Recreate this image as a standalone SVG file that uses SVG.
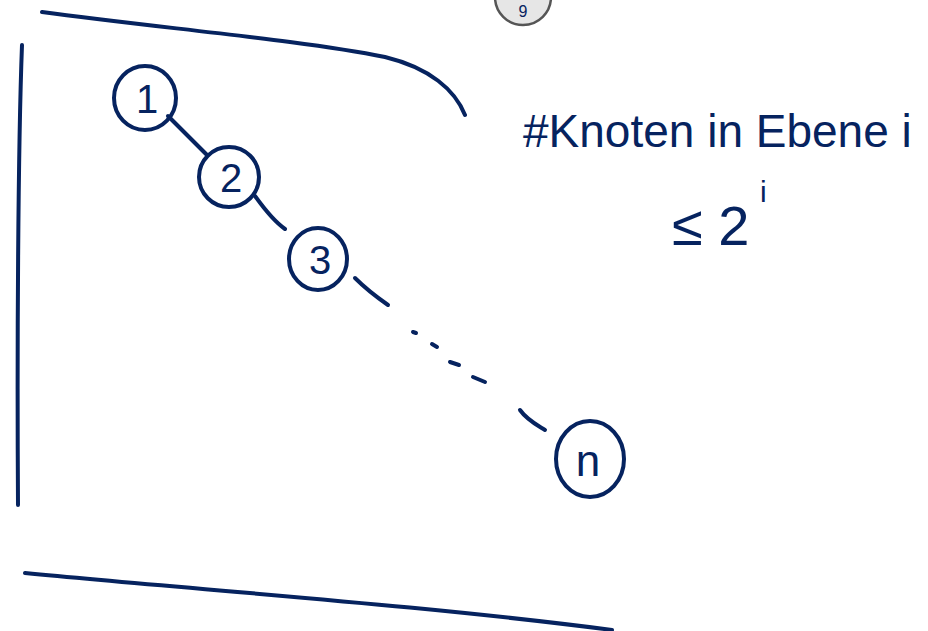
<svg xmlns="http://www.w3.org/2000/svg" width="928" height="631" viewBox="0 0 928 631">
<style>
.ink{fill:none;stroke:#06235f;stroke-width:4;stroke-linecap:round;stroke-linejoin:round}
.lbl{font-family:"Liberation Sans",Arial,sans-serif;fill:#06235f;text-anchor:middle}
.txt{font-family:"Liberation Sans",Arial,sans-serif;fill:#06235f}
</style>
<rect width="928" height="631" fill="#ffffff"/>
<g id="page-button">
<circle cx="523" cy="-3" r="28" fill="#e6e6e6" stroke="#555555" stroke-width="2.5"/>
<text x="523" y="17" class="lbl" font-size="16" fill="#222">9</text>
</g>
<g id="frame">
<path class="ink" d="M42,12 C160,28 300,40 385,57 C430,68 455,90 465,115"/>
<path class="ink" d="M22,45 C18,150 17,350 18,505"/>
<path class="ink" d="M25,573 C200,590 420,605 612,630"/>
</g>
<g id="connectors">
<path class="ink" d="M168,116 L207,155"/>
<path class="ink" d="M255,196 C265,210 275,222 285,229"/>
<path class="ink" d="M355,278 C365,288 378,298 388,305"/>
<path class="ink" d="M413,332 L416,333"/>
<path class="ink" d="M432,344 L437,347"/>
<path class="ink" d="M450,362 L459,365"/>
<path class="ink" d="M473,377 L485,382"/>
<path class="ink" d="M520,410 C527,420 537,425 545,430"/>
</g>
<g id="node-1">
<ellipse class="ink" cx="145" cy="98" rx="31" ry="32"/>
<text x="147" y="113" class="lbl" font-size="40">1</text>
</g>
<g id="node-2">
<ellipse class="ink" cx="229" cy="177" rx="30" ry="30"/>
<text x="231" y="192" class="lbl" font-size="40">2</text>
</g>
<g id="node-3">
<ellipse class="ink" cx="318" cy="259" rx="29" ry="31"/>
<text x="320" y="274" class="lbl" font-size="40">3</text>
</g>
<g id="node-n">
<ellipse class="ink" cx="590" cy="459" rx="34" ry="38"/>
<text x="588" y="476" class="lbl" font-size="44">n</text>
</g>
<g id="note">
<text x="523" y="147" class="txt" font-size="46">#Knoten in Ebene i</text>
<text x="672" y="245" class="txt" font-size="56">≤ 2</text>
<text x="760" y="202" class="txt" font-size="30">i</text>
</g>
</svg>
